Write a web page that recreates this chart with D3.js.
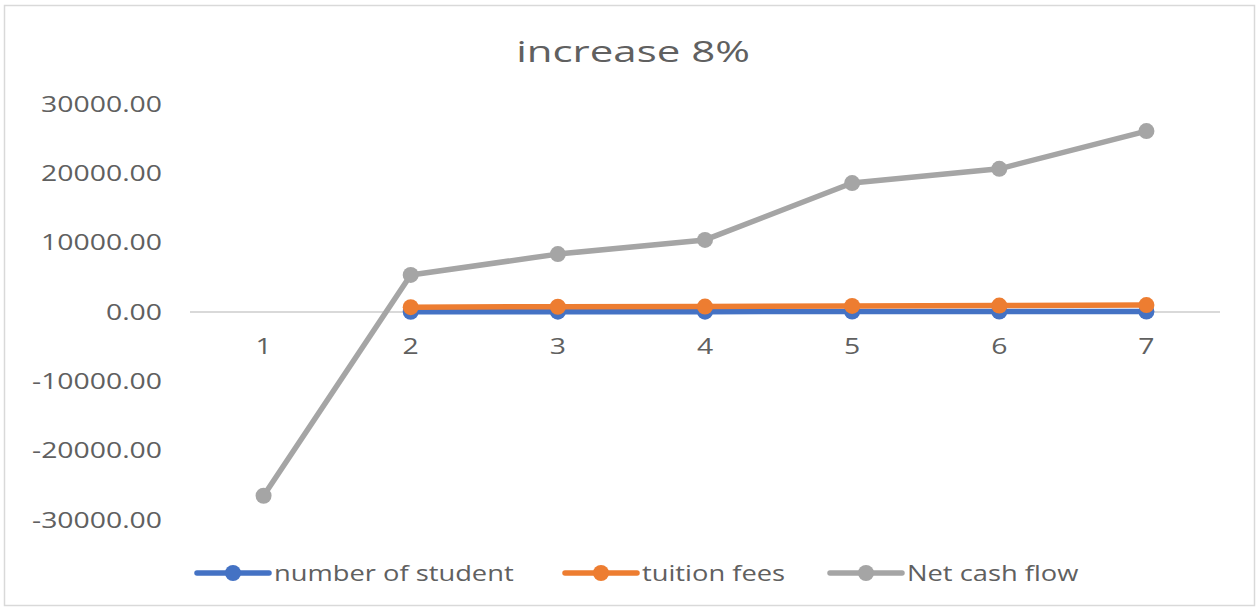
<!DOCTYPE html>
<html>
<head>
<meta charset="utf-8">
<script src="https://cdn.jsdelivr.net/npm/d3@7"></script>
<style>
  body { margin: 0; background: #fff; }
  text { font-family: "Open Sans", sans-serif; fill: #606060; }
</style>
</head>
<body>
<svg id="chart" width="1258" height="609"></svg>
<script>
// chart values
const categories = ["1", "2", "3", "4", "5", "6", "7"];
const students = [null, 35, 48, 52, 61, 66, 74];
const tuition = [null, 700, 760, 780, 880, 920, 1000];
const netCash = [-26500, 5350, 8350, 10400, 18600, 20650, 26100];
const yTicks = [-30000, -20000, -10000, 0, 10000, 20000, 30000];
const seriesNames = ["number of student", "tuition fees", "Net cash flow"];
const seriesColors = ["#4472C4", "#ED7D31", "#A5A5A5"];

const series = [students, tuition, netCash].map((vals, i) => ({
    name: seriesNames[i],
    color: seriesColors[i],
    values: vals.map((v, j) => ({ cat: categories[j], v: v }))
}));

const stretch = 1.35; // text in the picture is drawn wide
const svg = d3.select("#chart");

svg.append("rect")
    .attr("x", 4.5).attr("y", 5.5)
    .attr("width", 1250).attr("height", 600)
    .attr("fill", "#fff")
    .attr("stroke", "#d9d9d9")
    .attr("stroke-width", 1.5);

let x = d3.scalePoint().domain(categories).range([190, 1220]).padding(0.5);
let y = d3.scaleLinear().domain([-30000, 30000]).range([520, 104]);

// title
svg.append("text")
    .attr("transform", `translate(633,62) scale(1.4,1)`)
    .attr("text-anchor", "middle")
    .style("font-size", "30px")
    .text("increase 8%");

// y axis labels
svg.append("g").selectAll("text")
    .data(yTicks)
    .enter().append("text")
    .attr("transform", d => `translate(162,${y(d) + 7.5}) scale(${stretch},1)`)
    .attr("text-anchor", "end")
    .style("font-size", "21px")
    .text(d => d.toFixed(2));

// zero line
svg.append("line")
    .attr("x1", 190).attr("x2", 1220)
    .attr("y1", y(0)).attr("y2", y(0))
    .attr("stroke", "#d9d9d9")
    .attr("stroke-width", 2);

// x labels
svg.append("g").selectAll("text")
    .data(categories)
    .enter().append("text")
    .attr("transform", d => `translate(${x(d)},${y(0) + 42}) scale(${stretch},1)`)
    .attr("text-anchor", "middle")
    .style("font-size", "21px")
    .text(d => d);

let line = d3.line()
    .defined(d => d.v !== null)
    .x(d => x(d.cat))
    .y(d => y(d.v));

series.forEach(s => {
    let g = svg.append("g");
    g.append("path")
        .attr("d", line(s.values))
        .attr("fill", "none")
        .attr("stroke", s.color)
        .attr("stroke-width", 5.5)
        .attr("stroke-linejoin", "round");
    g.selectAll("circle")
        .data(s.values.filter(d => d.v !== null))
        .enter().append("circle")
        .attr("cx", d => x(d.cat))
        .attr("cy", d => y(d.v))
        .attr("r", 8)
        .attr("fill", s.color);
});

// legend
const legendX = [197, 565, 830];
let legend = svg.append("g").selectAll("g")
    .data(series)
    .enter().append("g")
    .attr("transform", (d, i) => `translate(${legendX[i]},573)`);

legend.append("line")
    .attr("x1", 0).attr("x2", 72)
    .attr("stroke", d => d.color)
    .attr("stroke-width", 5.5)
    .attr("stroke-linecap", "round");
legend.append("circle")
    .attr("cx", 36).attr("r", 8)
    .attr("fill", d => d.color);
legend.append("text")
    .attr("transform", `translate(77,7.5) scale(1.3,1)`)
    .style("font-size", "21px")
    .text(d => d.name);
</script>
</body>
</html>
